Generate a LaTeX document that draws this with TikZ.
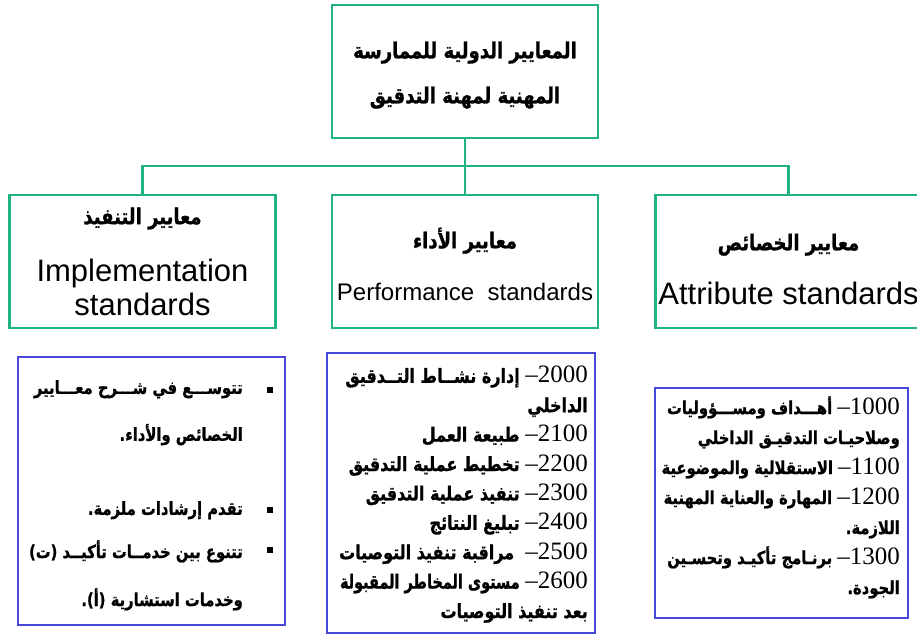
\documentclass[tikz,border=0pt]{standalone}
\usepackage{fontspec}
\setmainfont{Liberation Sans}
\newfontfamily\arabicfont[Script=Arabic, FakeStretch=0.82, BoldFeatures={FakeBold=1}]{DejaVu Sans}
\newfontfamily\arabicnarrow[Script=Arabic, FakeStretch=0.74, BoldFeatures={FakeBold=1}]{DejaVu Sans}
\newfontfamily\numfont{Liberation Serif}
\TeXXeTstate=1
\usetikzlibrary{positioning}

\definecolor{boxgreen}{HTML}{1FB383}
\definecolor{boxblue}{HTML}{4848D8}

% one right-to-left line, and a standard number with its dash
\newcommand{\arline}[1]{\beginR #1\endR}
\newcommand{\stdno}[1]{\beginL{\numfont\mdseries\fontsize{25bp}{29bp}\selectfont #1}\endL{\numfont\mdseries\fontsize{25bp}{29bp}\selectfont –}}

\begin{document}
\begin{tikzpicture}[x=1bp, y=-1bp,
  stdbox/.style={draw=boxgreen, line width=2.4bp, minimum width=266bp, minimum height=133bp, inner sep=0pt, align=center},
  listbox/.style={draw=boxblue, line width=2.6bp, inner sep=0pt},
  link/.style={draw=boxgreen, line width=2.4bp},
  artext/.style={align=right, inner sep=0pt, anchor=north east},
  bullet/.style={fill=black, rectangle, minimum size=6bp, inner sep=0pt},
]
\useasboundingbox (0,0) rectangle (917,635);
\clip (0,0) rectangle (917,635);

% title and the three groups of standards
\node[stdbox, font=\arabicfont\bfseries\fontsize{22bp}{45bp}\selectfont] (top) at (465,71.5)
  {\rule{0pt}{24bp}\arline{المعايير الدولية للممارسة}\\\arline{المهنية لمهنة التدقيق}};

\node[stdbox, font=\fontsize{31bp}{34bp}\selectfont] (impl) at (142.5,261.5)
  {{\arabicfont\bfseries\fontsize{22bp}{25bp}\selectfont\arline{معايير التنفيذ}}\\[23bp]Implementation\\standards};
\node[stdbox, font=\fontsize{24bp}{29bp}\selectfont] (perf) at (465,261.5)
  {\rule{0pt}{26bp}{\arabicfont\bfseries\fontsize{22bp}{25bp}\selectfont\arline{معايير الأداء}}\\[23bp]Performance\ \ standards};
\node[stdbox, font=\fontsize{31bp}{34bp}\selectfont] (attr) at (788.5,261.5)
  {\rule{0pt}{32bp}{\arabicfont\bfseries\fontsize{22bp}{25bp}\selectfont\arline{معايير الخصائص}}\\[20bp]Attribute standards};

% connectors
\coordinate (fork) at (465,166);
\draw[link] (top.south) -- (fork);
\draw[link] (fork) -| (impl.north);
\draw[link] (fork) -- (perf.north);
\draw[link] (fork) -| (attr.north);

% detail boxes
\node[listbox, minimum width=267bp, minimum height=268bp] (impllist) at (151.5,491) {};
\node[listbox, minimum width=268bp, minimum height=280bp] (perflist) at (461,493) {};
\node[listbox, minimum width=253bp, minimum height=230bp] (attrlist) at (781.5,503) {};

% implementation notes
\node[bullet] (b1) at (270,390) {};
\node[bullet] (b2) at (270,510) {};
\node[bullet] (b3) at (270,550) {};
\node[artext, font=\arabicfont\bfseries\fontsize{18bp}{47bp}\selectfont] (note1) at (243,380)
  {\arline{تتوســـع في شـــرح معـــايير}\\\arline{الخصائص والأداء.}};
\node[artext, font=\arabicfont\bfseries\fontsize{18bp}{29bp}\selectfont] (note2) at (243,501)
  {\arline{تقدم إرشادات ملزمة.}};
\node[artext, font=\arabicfont\bfseries\fontsize{18bp}{48bp}\selectfont] (note3) at (243,540)
  {\arline{تتنوع بين خدمــات تأكيــد (ت)}\\\arline{وخدمات استشارية (أ).}};

% performance standards
\node[artext, font=\arabicfont\bfseries\fontsize{19.5bp}{29.4bp}\selectfont] (perftext) at (588,366) {%
  \arline{\stdno{2000} إدارة نشــاط التــدقيق}\\
  \arline{الداخلي}\\
  \arline{\stdno{2100} طبيعة العمل}\\
  \arline{\stdno{2200} تخطيط عملية التدقيق}\\
  \arline{\stdno{2300} تنفيذ عملية التدقيق}\\
  \arline{\stdno{2400} تبليغ النتائج}\\
  \arline{\stdno{2500}\ \ مراقبة تنفيذ التوصيات}\\
  \arline{\stdno{2600} {\arabicnarrow\bfseries مستوى المخاطر المقبولة}}\\
  \arline{بعد تنفيذ التوصيات}};

% attribute standards
\node[artext, font=\arabicfont\bfseries\fontsize{18bp}{30bp}\selectfont] (attrtext) at (900,396) {%
  \arline{\stdno{1000} أهـــداف ومســـؤوليات}\\
  \arline{وصلاحيـات التدقيـق الداخلي}\\
  \arline{\stdno{1100} الاستقلالية والموضوعية}\\
  \arline{\stdno{1200} المهارة والعناية المهنية}\\
  \arline{اللازمة.}\\
  \arline{\stdno{1300} برنـامج تأكيـد وتحسـين}\\
  \arline{الجودة.}};
\end{tikzpicture}
\end{document}
